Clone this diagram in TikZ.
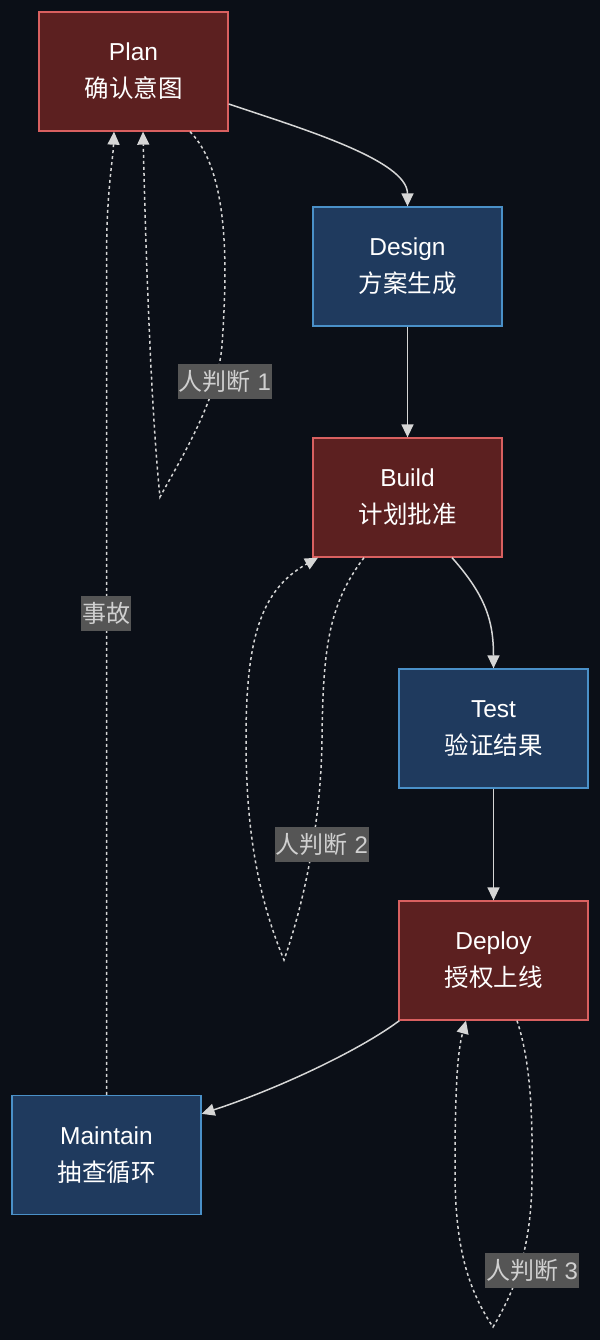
\documentclass[tikz,border=0pt]{standalone}
\usepackage{fontspec}
\setmainfont{Liberation Sans}
\newfontfamily\cjk{Noto Sans CJK SC}
\usetikzlibrary{arrows.meta,calc}
\definecolor{bg}{HTML}{0B0F17}
\definecolor{redfill}{HTML}{5C2020}
\definecolor{redline}{HTML}{D96060}
\definecolor{bluefill}{HTML}{1F3A5E}
\definecolor{blueline}{HTML}{4A90C8}
\definecolor{edgecol}{HTML}{D6D6D6}
\definecolor{lblfill}{HTML}{555555}
\definecolor{lbltext}{HTML}{D0D0D0}
\tikzset{
  box/.style={draw, line width=1.3pt, minimum width=189pt, minimum height=119pt, inner sep=0pt,
    align=center, text=white, font=\fontsize{24.5}{37}\selectfont},
  redbox/.style={box, fill=redfill, draw=redline},
  bluebox/.style={box, fill=bluefill, draw=blueline},
  edge/.style={draw=edgecol, line width=1.5pt, -{Triangle[length=13pt,width=12pt]}, edgecol},
  dedge/.style={edge, dash pattern=on 3pt off 3pt},
  lbl/.style={fill=lblfill, text=lbltext, inner xsep=1pt, inner ysep=0pt, minimum height=35pt,
    font=\fontsize{24}{28}\selectfont}
}
\begin{document}
\begin{tikzpicture}[x=1pt,y=-1pt]
\fill[bg] (0,0) rectangle (600,1340);
\useasboundingbox (0,0) rectangle (600,1340);

\node[redbox]  (plan)     at (133.5,71.5)  {Plan\\{\cjk 确认意图}};
\node[bluebox] (design)   at (407.5,266.5) {Design\\{\cjk 方案生成}};
\node[redbox]  (build)    at (407.5,497.5) {Build\\{\cjk 计划批准}};
\node[bluebox] (test)     at (493.5,728.5) {Test\\{\cjk 验证结果}};
\node[redbox]  (deploy)   at (493.5,960.5) {Deploy\\{\cjk 授权上线}};
\node[bluebox] (maintain) at (106.5,1155)  {Maintain\\{\cjk 抽查循环}};

\coordinate (t1) at (160,497);
\coordinate (t2) at (284,960);
\coordinate (t3) at (493,1327);

% solid flow
\draw[edge] ($(plan.east)+(0,32.5)$) .. controls (300,128) and (407.5,160) .. (design.north);
\draw[edge] (design.south) -- (build.north);
\draw[edge] ($(build.south)+(44.5,0)$) .. controls (485,595) and (493.5,620) .. (test.north);
\draw[edge] (test.south) -- (deploy.south |- deploy.north);
\draw[edge] ($(deploy.south west)+(1,0)$) .. controls (360,1050) and (280,1088) .. ($(maintain.north east)+(0,19)$);

% incident back to plan
\draw[dedge] (maintain.north) -- (106.5,260) .. controls (106.5,190) and (113,160) .. ($(plan.south)+(-19.5,0)$);

% human loops
\draw[dedge] ($(plan.south)+(56.5,0)$) .. controls (228,170) and (228,260) .. (222,345)
  .. controls (218,400) and (180,460) .. (t1)
  .. controls (150,400) and (145,220) .. ($(plan.south)+(9.5,0)$);
\draw[dedge] ($(build.south)+(-43.5,0)$) .. controls (328,605) and (323,650) .. (322,740)
  .. controls (321,820) and (305,900) .. (t2)
  .. controls (255,890) and (246,820) .. (246,740)
  .. controls (246,640) and (260,590) .. ($(build.south)+(-89.5,0)$);
\draw[dedge] ($(deploy.south)+(23.5,0)$) .. controls (530,1060) and (533,1110) .. (532,1180)
  .. controls (531,1250) and (515,1290) .. (t3)
  .. controls (465,1285) and (455,1240) .. (455,1170)
  .. controls (455,1080) and (458,1050) .. ($(deploy.south)+(-27.5,0)$);

% labels
\node[lbl] (l1) at (225,381.5) {{\cjk 人判断} 1};
\node[lbl] (l2) at (322,844) {{\cjk 人判断} 2};
\node[lbl] (l3) at (532,1270.5) {{\cjk 人判断} 3};
\node[lbl] (l0) at (106,613.5) {\cjk 事故};
\end{tikzpicture}
\end{document}
